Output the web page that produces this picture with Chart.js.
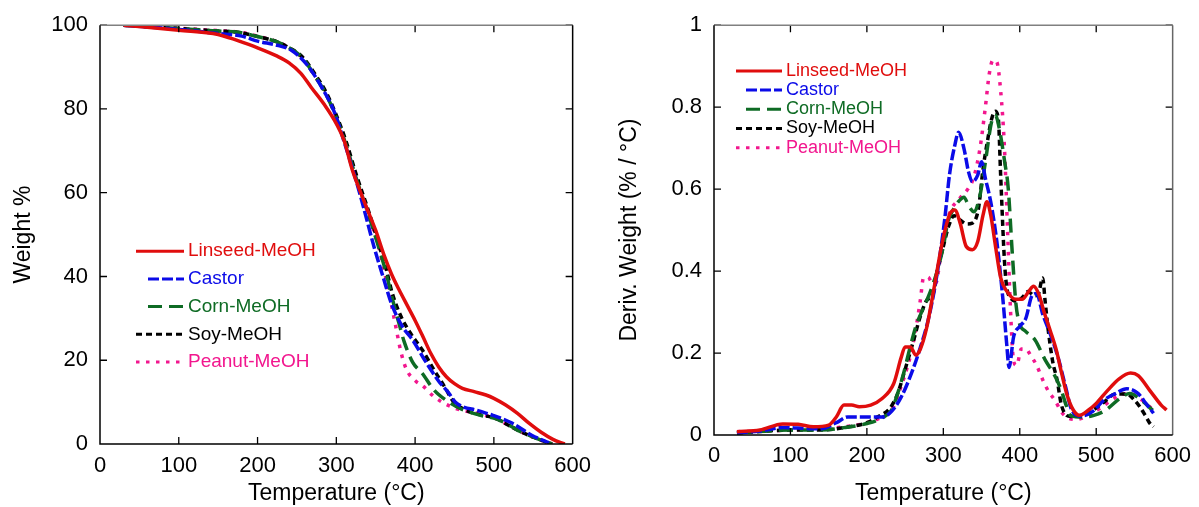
<!DOCTYPE html>
<html>
<head>
<meta charset="utf-8">
<script src="https://cdn.jsdelivr.net/npm/chart.js@4"></script>
<style>
  body { margin: 0; background: #fff; }
  canvas { position: absolute; top: 0; }
  #tga { left: 0; }
  #dtg { left: 600px; }
</style>
</head>
<body>
<canvas id="tga" width="600" height="507"></canvas>
<canvas id="dtg" width="599" height="507"></canvas>
<script>
// series
let names = ['Linseed-MeOH', 'Castor', 'Corn-MeOH', 'Soy-MeOH', 'Peanut-MeOH'];
let colors = ['#e00d0d', '#0b0be8', '#0e6b24', '#000000', '#f2168e'];
let dashes = [[], [11, 3], [14, 7], [6, 4], [3.5, 6.5]];

let tempTicks = [0, 100, 200, 300, 400, 500, 600];
let weightTicks = [0, 20, 40, 60, 80, 100];
let derivTicks = [0, 0.2, 0.4, 0.6, 0.8, 1];

// TGA: weight % vs temperature
let tgaLinseedT = [30, 100, 150, 175, 200, 225, 240, 255, 268, 285, 300, 310, 320, 330, 340, 350, 360, 370, 380, 390, 400, 410, 420, 430, 440, 450, 460, 475, 490, 500, 515, 530, 545, 560, 575, 590];
let tgaLinseedW = [100, 98.8, 97.8, 96.3, 94.6, 92.6, 91, 88.5, 85.2, 81, 76.5, 72.4, 65.6, 60.5, 55.7, 51, 45.4, 40.6, 36.7, 33.1, 29.5, 25.6, 21.6, 18.4, 16, 14.4, 13.3, 12.5, 11.7, 10.9, 9.3, 7.3, 4.9, 2.8, 1.1, 0];

let tgaCastorT = [30, 100, 150, 180, 200, 225, 243, 263, 282, 297, 311, 321, 331, 348, 360, 370, 384, 397, 413, 430, 443, 451, 481, 498, 523, 548, 570];
let tgaCastorW = [100, 99, 98, 97.4, 96.2, 95.2, 94, 90.5, 85, 79.5, 71.5, 65.5, 59, 47, 39.5, 33.5, 28, 24.8, 19.8, 15, 12.1, 10, 7.9, 6.9, 5, 2.1, 0.3];

let tgaCornT = [30, 100, 150, 175, 200, 225, 240, 257, 274, 287, 300, 312, 325, 342, 355, 363, 370, 380, 386, 397, 409, 424, 439, 457, 482, 501, 516, 530, 555, 574];
let tgaCornW = [100, 99.2, 98.6, 98.3, 97.3, 96, 94.6, 92.2, 87.5, 83.5, 77.9, 71.6, 63.6, 54.1, 46.2, 41, 35.5, 28.5, 24.5, 19.5, 16.9, 12.9, 10.5, 8.5, 6.9, 6.1, 4.9, 3.3, 1.3, 0];

let tgaSoyT = [30, 100, 150, 175, 200, 225, 240, 257, 274, 287, 300, 312, 325, 342, 355, 363, 371, 382, 394, 409, 423, 438, 448, 464, 482, 501, 523, 545, 570];
let tgaSoyW = [100, 99.2, 98.6, 98.3, 97.3, 96, 94.6, 92.4, 88, 84, 78.5, 72.5, 64.5, 55, 47, 42, 36, 30.5, 26.5, 22.5, 18, 13.5, 10.3, 8.1, 7, 6.2, 4, 2, 0.2];

let tgaPeanutT = [30, 100, 150, 175, 200, 225, 240, 257, 274, 287, 300, 312, 325, 342, 355, 360, 367, 375, 382, 389, 401, 409, 424, 447, 481, 501, 523, 545, 566, 575];
let tgaPeanutW = [100, 99.3, 98.7, 98.4, 97.4, 96, 94.6, 92.2, 87.5, 83.5, 77.9, 71.6, 63.6, 54.1, 46.2, 42, 36, 28.5, 22, 17.8, 15, 14, 11.3, 8.8, 7.2, 6.2, 4, 2, 0.5, 0];

// DTG: derivative weight vs temperature
let dtgLinseedT = [30, 60, 90, 110, 130, 150, 160, 170, 180, 190, 205, 220, 235, 245, 250, 257, 264, 270, 278, 288, 298, 308, 315, 322, 330, 338, 345, 352, 357, 362, 368, 375, 383, 395, 403, 412, 418, 425, 432, 440, 448, 455, 462, 470, 478, 490, 500, 515, 530, 545, 555, 570, 585, 592];
let dtgLinseedD = [0.008, 0.012, 0.027, 0.026, 0.02, 0.024, 0.044, 0.073, 0.073, 0.069, 0.073, 0.089, 0.125, 0.19, 0.215, 0.215, 0.195, 0.21, 0.26, 0.36, 0.464, 0.537, 0.549, 0.517, 0.46, 0.452, 0.472, 0.537, 0.569, 0.537, 0.464, 0.384, 0.351, 0.331, 0.331, 0.351, 0.363, 0.343, 0.299, 0.254, 0.206, 0.149, 0.097, 0.061, 0.048, 0.061, 0.077, 0.109, 0.137, 0.151, 0.145, 0.109, 0.073, 0.061];

let dtgCastorT = [30, 60, 90, 110, 140, 160, 175, 200, 220, 232, 245, 258, 270, 280, 288, 295, 302, 308, 315, 320, 327, 333, 338, 345, 350, 355, 362, 370, 378, 383, 386, 392, 400, 408, 416, 422, 430, 440, 450, 460, 468, 480, 495, 510, 525, 540, 555, 565, 575];
let dtgCastorD = [0.005, 0.01, 0.018, 0.017, 0.015, 0.03, 0.044, 0.044, 0.044, 0.057, 0.093, 0.149, 0.214, 0.279, 0.351, 0.432, 0.529, 0.634, 0.707, 0.739, 0.699, 0.642, 0.618, 0.634, 0.667, 0.626, 0.569, 0.472, 0.33, 0.22, 0.165, 0.24, 0.265, 0.285, 0.34, 0.345, 0.295, 0.246, 0.19, 0.117, 0.061, 0.046, 0.057, 0.085, 0.101, 0.113, 0.101, 0.077, 0.053];

let dtgCornT = [30, 100, 140, 170, 200, 220, 232, 240, 248, 256, 265, 274, 283, 292, 300, 306, 313, 320, 327, 333, 340, 348, 355, 363, 368, 373, 380, 385, 390, 395, 400, 407, 420, 433, 446, 454, 461, 467, 482, 497, 512, 531, 544, 559, 574];
let dtgCornD = [0.005, 0.012, 0.012, 0.018, 0.028, 0.042, 0.06, 0.1, 0.15, 0.21, 0.27, 0.31, 0.35, 0.4, 0.46, 0.52, 0.55, 0.57, 0.58, 0.56, 0.545, 0.585, 0.666, 0.763, 0.78, 0.75, 0.67, 0.6, 0.45, 0.32, 0.27, 0.254, 0.232, 0.184, 0.144, 0.111, 0.071, 0.047, 0.044, 0.048, 0.06, 0.089, 0.101, 0.085, 0.06];

let dtgSoyT = [30, 100, 140, 170, 200, 215, 230, 240, 250, 261, 270, 279, 286, 292, 300, 307, 314, 322, 330, 338, 346, 352, 358, 363, 368, 372, 375, 380, 383, 388, 395, 403, 411, 419, 424, 430, 433, 437, 443, 449, 454, 460, 467, 480, 495, 510, 525, 540, 550, 557, 565, 570, 575];
let dtgSoyD = [0.005, 0.012, 0.012, 0.018, 0.03, 0.045, 0.065, 0.1, 0.16, 0.23, 0.29, 0.33, 0.34, 0.4, 0.46, 0.51, 0.535, 0.525, 0.515, 0.517, 0.553, 0.65, 0.72, 0.77, 0.79, 0.77, 0.634, 0.424, 0.36, 0.335, 0.327, 0.335, 0.35, 0.34, 0.343, 0.383, 0.33, 0.26, 0.18, 0.133, 0.077, 0.05, 0.045, 0.048, 0.06, 0.08, 0.1, 0.1, 0.085, 0.069, 0.045, 0.029, 0.02];

let dtgPeanutT = [30, 100, 140, 170, 200, 220, 235, 245, 252, 257, 265, 270, 274, 280, 286, 290, 296, 302, 310, 318, 325, 332, 340, 348, 355, 360, 365, 370, 375, 380, 384, 388, 392, 396, 402, 408, 414, 422, 430, 438, 446, 455, 465, 475, 490, 505, 520, 535, 545, 560, 575];
let dtgPeanutD = [0.008, 0.012, 0.015, 0.02, 0.03, 0.045, 0.07, 0.12, 0.16, 0.194, 0.27, 0.33, 0.383, 0.385, 0.37, 0.37, 0.43, 0.5, 0.55, 0.57, 0.585, 0.6, 0.63, 0.7, 0.8, 0.88, 0.915, 0.91, 0.84, 0.7, 0.5, 0.3, 0.18, 0.17, 0.21, 0.21, 0.195, 0.17, 0.135, 0.105, 0.085, 0.055, 0.04, 0.038, 0.05, 0.065, 0.085, 0.1, 0.1, 0.085, 0.06];

Chart.defaults.font.family = '"Liberation Sans", Arial, sans-serif';
Chart.defaults.color = '#000';

function pairs(xs, ys) {
    return xs.map((x, i) => ({x: x, y: ys[i]}));
}

function makeSets(list) {
    return list.map((s, i) => ({
        label: names[i],
        data: pairs(s[0], s[1]),
        borderColor: colors[i],
        backgroundColor: colors[i],
        borderDash: dashes[i],
        borderWidth: 3.5,
        borderCapStyle: 'butt',
        pointRadius: 0,
        cubicInterpolationMode: 'monotone',
        fill: false
    }));
}

// inward ticks, frame and the legend inside the plot
let boxPlugin = {
    id: 'box',
    afterDatasetsDraw(chart, args, o) {
        let ctx = chart.ctx;
        let a = chart.chartArea;
        let xs = chart.scales.x, ys = chart.scales.y;
        ctx.save();
        ctx.setLineDash([]);
        ctx.lineWidth = 1.3;
        ctx.strokeStyle = '#000';
        ctx.beginPath();
        xs.ticks.forEach(t => {
            let px = xs.getPixelForValue(t.value);
            if (px < a.left + 2 || px > a.right - 2) return;
            ctx.moveTo(px, a.bottom); ctx.lineTo(px, a.bottom - 7);
            ctx.moveTo(px, a.top); ctx.lineTo(px, a.top + 7);
        });
        ys.ticks.forEach(t => {
            let py = ys.getPixelForValue(t.value);
            if (py > a.bottom - 2) return;
            ctx.moveTo(a.left, py); ctx.lineTo(a.left + 7, py);
            ctx.moveTo(a.right, py); ctx.lineTo(a.right - 7, py);
        });
        ctx.stroke();

        ctx.lineWidth = 1.5;
        ctx.strokeStyle = '#808080';
        ctx.beginPath(); ctx.moveTo(a.left, a.top); ctx.lineTo(a.right, a.top); ctx.stroke();
        ctx.strokeStyle = o.rightColor;
        ctx.beginPath(); ctx.moveTo(a.right, a.top); ctx.lineTo(a.right, a.bottom); ctx.stroke();
        ctx.strokeStyle = '#000';
        ctx.beginPath();
        ctx.moveTo(a.left, a.top); ctx.lineTo(a.left, a.bottom); ctx.lineTo(a.right, a.bottom);
        ctx.stroke();

        ctx.font = o.fontSize + 'px "Liberation Sans", Arial, sans-serif';
        ctx.textBaseline = 'middle';
        ctx.textAlign = 'left';
        chart.data.datasets.forEach((ds, i) => {
            let y = a.top + o.y0 + i * o.dy;
            let x0 = a.left + (o.indent[i] ? o.xShort : o.x0);
            ctx.strokeStyle = ds.borderColor;
            ctx.lineWidth = 3;
            ctx.setLineDash(ds.borderDash);
            ctx.beginPath(); ctx.moveTo(x0, y); ctx.lineTo(a.left + o.x1, y); ctx.stroke();
            ctx.fillStyle = ds.borderColor;
            ctx.fillText(ds.label, a.left + o.tx, y);
        });
        ctx.restore();
    }
};

function makeChart(canvas, sets, yMax, yTicks, yTitle, g) {
    return new Chart(canvas, {
        type: 'line',
        data: { datasets: sets },
        plugins: [boxPlugin],
        options: {
            responsive: false,
            animation: false,
            layout: { padding: { left: 0, top: g.top, right: g.right, bottom: 0 } },
            plugins: {
                legend: { display: false },
                tooltip: { enabled: false },
                box: g.legend
            },
            scales: {
                x: {
                    type: 'linear', min: 0, max: 600,
                    afterBuildTicks: s => { s.ticks = tempTicks.map(v => ({value: v})); },
                    afterFit: s => { s.height = g.xHeight; },
                    grid: { display: false, drawTicks: false },
                    border: { display: false },
                    ticks: { font: { size: 22 }, color: '#000', padding: g.xPad, maxRotation: 0 },
                    title: { display: true, text: 'Temperature (°C)', font: { size: 23 }, color: '#000', padding: 0 }
                },
                y: {
                    type: 'linear', min: 0, max: yMax,
                    afterBuildTicks: s => { s.ticks = yTicks.map(v => ({value: v})); },
                    afterFit: s => { s.width = g.yWidth; },
                    grid: { display: false, drawTicks: false },
                    border: { display: false },
                    ticks: { font: { size: 22 }, color: '#000', padding: 12, callback: v => String(v) },
                    title: { display: true, text: yTitle, font: { size: 23 }, color: '#000', padding: { top: g.yTitlePad, bottom: 0 } }
                }
            }
        }
    });
}

makeChart(document.getElementById('tga'), makeSets([
    [tgaLinseedT, tgaLinseedW],
    [tgaCastorT, tgaCastorW],
    [tgaCornT, tgaCornW],
    [tgaSoyT, tgaSoyW],
    [tgaPeanutT, tgaPeanutW]
]), 100, weightTicks, 'Weight %', {
    top: 24, right: 26, xHeight: 63, yWidth: 100, xPad: 9, yTitlePad: 10,
    legend: { x0: 36, xShort: 48, x1: 84, tx: 88, y0: 226, dy: 27.7, indent: [0, 1, 1, 0, 0], fontSize: 19, rightColor: '#000' }
});

makeChart(document.getElementById('dtg'), makeSets([
    [dtgLinseedT, dtgLinseedD],
    [dtgCastorT, dtgCastorD],
    [dtgCornT, dtgCornD],
    [dtgSoyT, dtgSoyD],
    [dtgPeanutT, dtgPeanutD]
]), 1, derivTicks, 'Deriv. Weight (% / °C)', {
    top: 22, right: 19, xHeight: 72, yWidth: 114, xPad: 8, yTitlePad: 16,
    legend: { x0: 22, xShort: 32, x1: 68, tx: 72, y0: 45.7, dy: 19.2, indent: [0, 1, 1, 0, 0], fontSize: 18, rightColor: '#666' }
});
</script>
</body>
</html>
